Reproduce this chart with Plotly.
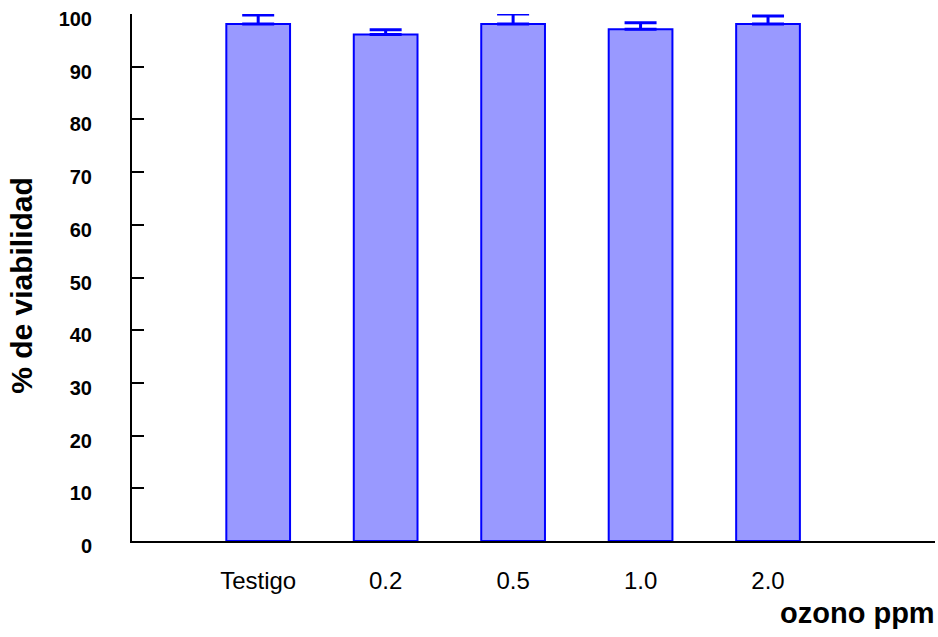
import plotly.graph_objects as go

categories = ["Testigo", "0.2", "0.5", "1.0", "2.0"]
positions = [1, 2, 3, 4, 5]
viabilidad = [98.1, 96.1, 98.1, 97.1, 98.1]
error_up = [1.7, 0.9, 1.9, 1.25, 1.5]
y_ticks = [0, 10, 20, 30, 40, 50, 60, 70, 80, 90, 100]

FONT = "Arial, Liberation Sans, sans-serif"

fig = go.Figure()
fig.add_trace(go.Bar(
    x=positions, y=viabilidad, width=0.5,
    marker=dict(color="#9999FF", line=dict(color="#0000FF", width=2)),
    error_y=dict(type="data", array=error_up, arrayminus=[0]*len(error_up),
                 symmetric=False, color="#0000FF", thickness=3, width=16),
    showlegend=False,
))

fig.update_layout(
    width=938, height=637,
    margin=dict(l=132, r=3, t=14, b=96),
    plot_bgcolor="white", paper_bgcolor="white",
    font=dict(family=FONT, color="black"),
    xaxis=dict(range=[0.01, 6.31], tickvals=positions, ticktext=categories,
               showgrid=False, zeroline=False, showline=True, linecolor="black",
               linewidth=2, ticks="", ticklabelstandoff=17,
               tickfont=dict(size=24, family=FONT, color="black")),
    yaxis=dict(range=[0, 100], tickvals=y_ticks, showgrid=False, zeroline=False,
               showline=True, linecolor="black", linewidth=2, automargin=False,
               ticks="inside", ticklen=12, tickwidth=2, tickcolor="black",
               ticklabelstandoff=34, ticklabelshift=5, ticklabeloverflow="allow",
               tickfont=dict(size=20, family=FONT, color="black", weight="bold")),
    annotations=[
        dict(text="% de viabilidad", textangle=-90, xref="paper", yref="paper",
             x=-0.137, y=0.486, xanchor="center", yanchor="middle", showarrow=False,
             font=dict(size=30, family=FONT, color="black", weight="bold")),
        dict(text="ozono ppm", xref="paper", yref="paper",
             x=1.003, y=-0.137, xanchor="right", yanchor="middle", showarrow=False,
             font=dict(size=29, family=FONT, color="black", weight="bold")),
    ],
)

fig.write_html(
    "out.html",
    config={"displayModeBar": False},
    post_script="document.body.style.margin='0';document.body.style.padding='0';",
)
